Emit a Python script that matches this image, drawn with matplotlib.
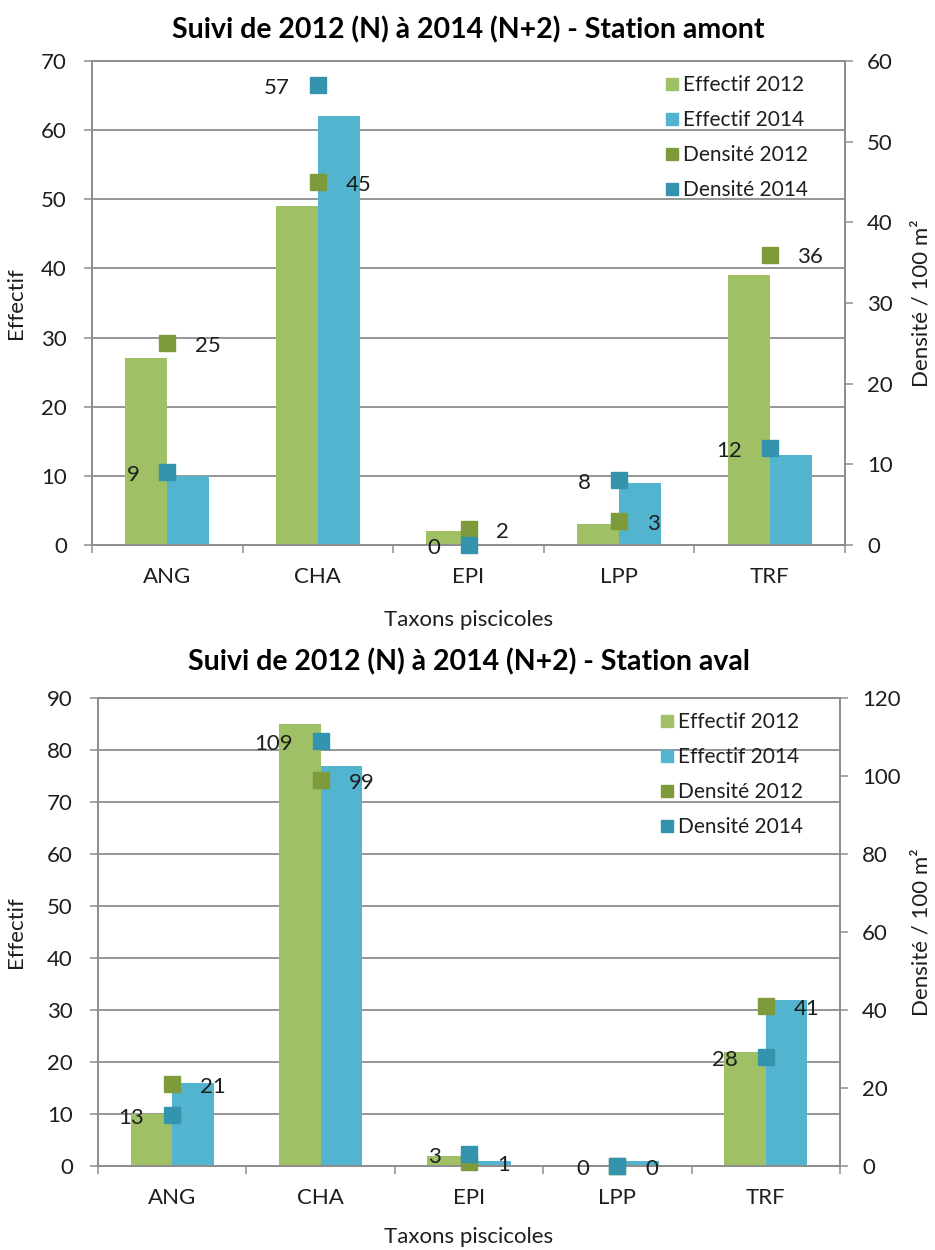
import matplotlib
matplotlib.use("Agg")
import matplotlib.pyplot as plt
from matplotlib.lines import Line2D
import numpy as np

plt.rcParams['font.family'] = ['Lato', 'DejaVu Sans']

# fish taxa sampled at both stations
taxa = ['ANG', 'CHA', 'EPI', 'LPP', 'TRF']

# upstream station (amont)
amont_eff_2012 = [27, 49, 2, 3, 39]
amont_eff_2014 = [10, 62, 0, 9, 13]
amont_dens_2012 = [25, 45, 2, 3, 36]
amont_dens_2014 = [9, 57, 0, 8, 12]

# downstream station (aval)
aval_eff_2012 = [10, 85, 2, 0, 22]
aval_eff_2014 = [16, 77, 1, 1, 32]
aval_dens_2012 = [21, 99, 1, 0, 41]
aval_dens_2014 = [13, 109, 3, 0, 28]

GREEN_BAR = '#9FC064'
BLUE_BAR = '#52B4CF'
GREEN_PT = '#7E9B3C'
BLUE_PT = '#3494AE'
GRID = '#8E8E8E'
TXT = '#1e1e1e'
FS = 16

W, H = 935, 1250
fig = plt.figure(figsize=(W / 100, H / 100), dpi=100)


def px_rect(left, top, right, bottom):
    return [left / W, 1 - bottom / H, (right - left) / W, (bottom - top) / H]


def draw_panel(box, title, eff12, eff14, d12, d14, lmax, lstep, rmax, rstep,
               title_y, xlabel_y, ylab_x, dens_x):
    left, top, right, bottom = box
    ax = fig.add_axes(px_rect(*box))
    x = np.arange(len(taxa))
    w = 0.28

    ax.bar(x - w / 2, eff12, w, color=GREEN_BAR, zorder=2)
    ax.bar(x + w / 2, eff14, w, color=BLUE_BAR, zorder=2)

    ax.set_xlim(-0.5, len(taxa) - 0.5)
    ax.set_ylim(0, lmax)
    ax.set_yticks(np.arange(0, lmax + 1, lstep))
    ax.set_xticks(x)
    ax.set_xticklabels(taxa)
    ax.set_xticks(np.arange(-0.5, len(taxa)), minor=True)
    ax.tick_params(axis='x', which='major', length=0, pad=16,
                   labelsize=FS, labelcolor=TXT)
    ax.tick_params(axis='x', which='minor', length=6, width=1.1, color=GRID)
    ax.tick_params(axis='y', length=6, width=1.1, color=GRID, pad=12,
                   labelsize=FS, labelcolor=TXT)
    ax.yaxis.grid(True, color=GRID, linewidth=1.3)
    ax.set_axisbelow(True)
    for s in ax.spines.values():
        s.set_color(GRID)
        s.set_linewidth(1.3)

    ax2 = ax.twinx()
    ax2.set_ylim(0, rmax)
    ax2.set_yticks(np.arange(0, rmax + 1, rstep))
    ax2.tick_params(axis='y', length=6, width=1.1, color=GRID, pad=10,
                    labelsize=FS, labelcolor=TXT)
    for s in ax2.spines.values():
        s.set_color(GRID)
        s.set_linewidth(1.3)

    ax2.plot(x, d12, 's', color=GREEN_PT, markersize=11.5, clip_on=False,
             zorder=3)
    ax2.plot(x, d14, 's', color=BLUE_PT, markersize=11.5, clip_on=False,
             zorder=4)
    for xi, v in zip(x, d12):
        ax2.annotate(str(v), (xi, v), xytext=(20, -2), textcoords='offset points',
                     ha='left', va='center', fontsize=FS, color=TXT, zorder=5,
                     annotation_clip=False)
    for xi, v in zip(x, d14):
        ax2.annotate(str(v), (xi, v), xytext=(-20, -2), textcoords='offset points',
                     ha='right', va='center', fontsize=FS, color=TXT, zorder=5,
                     annotation_clip=False)

    handles = [
        Line2D([], [], ls='none', marker='s', markersize=8, color=GREEN_BAR),
        Line2D([], [], ls='none', marker='s', markersize=8, color=BLUE_BAR),
        Line2D([], [], ls='none', marker='s', markersize=8, color=GREEN_PT),
        Line2D([], [], ls='none', marker='s', markersize=8, color=BLUE_PT),
    ]
    labels = ['Effectif 2012', 'Effectif 2014', 'Densité 2012', 'Densité 2014']
    ax2.legend(handles, labels, loc='upper right', bbox_to_anchor=(0.962, 0.988),
               frameon=False, fontsize=15, labelspacing=0.72, handletextpad=0.15,
               handlelength=0.8, borderaxespad=0, labelcolor=TXT)

    cx = (left + right) / 2 / W
    fig.text(cx, 1 - title_y / H, title, ha='center', va='center',
             fontsize=20.5, fontweight='bold', color='black')
    fig.text(cx, 1 - xlabel_y / H, 'Taxons piscicoles', ha='center',
             va='center', fontsize=FS, color=TXT)
    cy = 1 - (top + bottom) / 2 / H
    fig.text(ylab_x / W, cy, 'Effectif', ha='center', va='center',
             rotation=90, fontsize=FS, color=TXT)
    fig.text(dens_x / W, cy, 'Densité / 100 m²', ha='center', va='center',
             rotation=90, fontsize=FS, color=TXT)


draw_panel((92, 61, 845, 545), 'Suivi de 2012 (N) à 2014 (N+2) - Station amont',
           amont_eff_2012, amont_eff_2014, amont_dens_2012, amont_dens_2014,
           70, 10, 60, 10, title_y=30, xlabel_y=620, ylab_x=16, dens_x=921)
draw_panel((98, 698, 840, 1166), 'Suivi de 2012 (N) à 2014 (N+2) - Station aval',
           aval_eff_2012, aval_eff_2014, aval_dens_2012, aval_dens_2014,
           90, 10, 120, 20, title_y=662, xlabel_y=1237, ylab_x=16, dens_x=921)

fig.savefig('out.png', dpi=100, facecolor='white')
